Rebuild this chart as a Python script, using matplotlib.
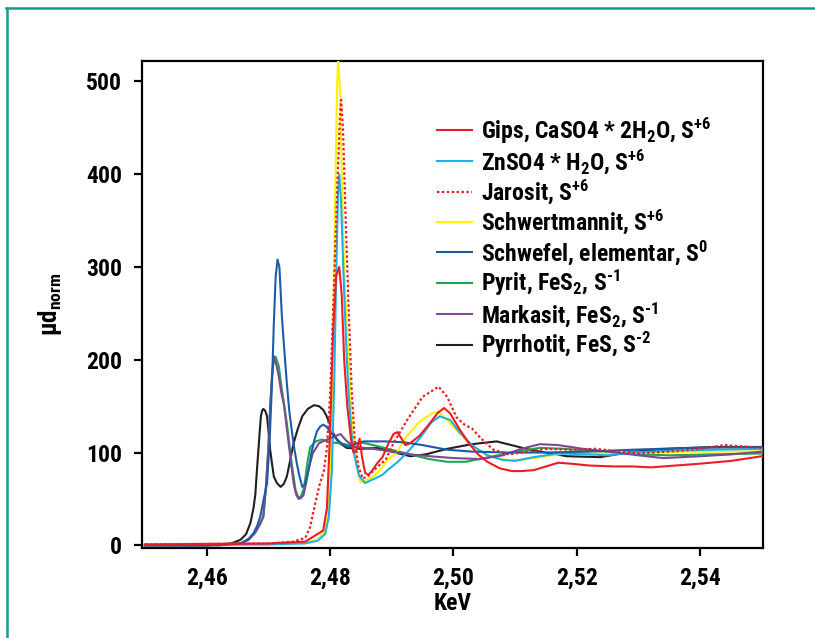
import matplotlib
matplotlib.use("Agg")
import matplotlib.pyplot as plt
from matplotlib.lines import Line2D

plt.rcParams['font.family'] = ['Roboto Condensed', 'PT Sans Narrow', 'DejaVu Sans']
plt.rcParams['font.weight'] = 'bold'
plt.rcParams['mathtext.fontset'] = 'custom'
plt.rcParams['mathtext.rm'] = 'Roboto Condensed:bold'
plt.rcParams['mathtext.it'] = 'Roboto Condensed:bold'
plt.rcParams['mathtext.bf'] = 'Roboto Condensed:bold'

# energies (KeV) and normalised absorption
gips_e = [2.450, 2.470, 2.476, 2.4789, 2.4795, 2.4800, 2.4805, 2.4810, 2.4815, 2.4819,
          2.4823, 2.4828, 2.4834, 2.4838, 2.4843, 2.4848, 2.4852, 2.4857, 2.4862, 2.4868,
          2.4876, 2.4885, 2.4895, 2.4903, 2.4909, 2.4915, 2.4922, 2.4930, 2.4945, 2.4960,
          2.4975, 2.4985, 2.4995, 2.5010, 2.5025, 2.5040, 2.5055, 2.5075, 2.5095, 2.5110,
          2.5130, 2.5150, 2.5170, 2.5190, 2.5220, 2.5260, 2.5290, 2.5320, 2.5360, 2.5400,
          2.5450, 2.5500]
gips_v = [1, 2, 4, 16, 40, 120, 230, 290, 300, 270,
          200, 150, 115, 100, 103, 115, 95, 78, 76, 80,
          88, 95, 110, 120, 122, 116, 108, 110, 118, 130,
          143, 148, 142, 125, 110, 98, 90, 83, 80, 80,
          81, 85, 89, 88, 86, 85, 85, 84, 86, 88,
          91, 96]

znso4_e = [2.450, 2.470, 2.476, 2.478, 2.4792, 2.4798, 2.4803, 2.4807, 2.4810, 2.4813,
           2.4815, 2.4818, 2.4822, 2.4826, 2.4830, 2.4835, 2.4840, 2.4847, 2.4857, 2.4866,
           2.4876, 2.4885, 2.4895, 2.4910, 2.4925, 2.4945, 2.4965, 2.4978, 2.4995, 2.5010,
           2.5030, 2.5055, 2.5080, 2.5100, 2.5130, 2.5170, 2.5220, 2.5250, 2.5290, 2.5350,
           2.5420, 2.5500]
znso4_v = [0, 1, 2, 5, 12, 30, 80, 180, 290, 380,
           400, 370, 290, 220, 165, 120, 95, 75, 67, 70,
           73, 76, 82, 90, 100, 115, 133, 139, 135, 122,
           108, 97, 92, 91, 95, 99, 98, 97, 100, 102,
           103, 104]

jarosit_e = [2.450, 2.470, 2.474, 2.4760, 2.4768, 2.4776, 2.4783, 2.4790, 2.4795, 2.4800,
             2.4806, 2.4812, 2.4816, 2.4818, 2.4821, 2.4825, 2.4830, 2.4835, 2.4840, 2.4846,
             2.4853, 2.4862, 2.4876, 2.4890, 2.4903, 2.4925, 2.4950, 2.4976, 2.4990, 2.5005,
             2.5018, 2.5030, 2.5045, 2.5065, 2.5090, 2.5120, 2.5150, 2.5190, 2.5230, 2.5270,
             2.5300, 2.5350, 2.5400, 2.5440, 2.5500]
jarosit_v = [1, 2, 4, 8, 20, 45, 65, 80, 105, 160,
             270, 390, 460, 480, 450, 360, 260, 170, 115, 85,
             72, 75, 84, 92, 110, 135, 160, 171, 160, 138,
             130, 126, 115, 103, 98, 101, 104, 103, 104, 101,
             99, 101, 104, 108, 105]

schwert_e = [2.450, 2.470, 2.476, 2.478, 2.4790, 2.4796, 2.4800, 2.4803, 2.4806, 2.4809,
             2.4811, 2.4813, 2.4816, 2.4819, 2.4822, 2.4826, 2.4830, 2.4835, 2.4841, 2.4849,
             2.4858, 2.4870, 2.4880, 2.4893, 2.4908, 2.4925, 2.4945, 2.4965, 2.4976, 2.4990,
             2.5005, 2.5025, 2.5043, 2.5065, 2.5086, 2.5110, 2.5140, 2.5180, 2.5240, 2.5300,
             2.5400, 2.5500]
schwert_v = [0, 1, 3, 6, 14, 30, 70, 150, 270, 400,
             480, 526, 495, 410, 320, 250, 205, 140, 100, 68,
             70, 74, 80, 92, 100, 118, 133, 142, 144, 135,
             124, 110, 101, 95, 92, 92, 95, 99, 99, 100,
             101, 101]

schwefel_e = [2.450, 2.460, 2.4655, 2.4668, 2.4676, 2.4682, 2.4687, 2.4692, 2.4698, 2.4702,
              2.4706, 2.4709, 2.4712, 2.4715, 2.4718, 2.4722, 2.4726, 2.4730, 2.4734, 2.4738,
              2.4742, 2.4746, 2.4750, 2.4755, 2.4759, 2.4763, 2.4767, 2.4771, 2.4775, 2.4779,
              2.4784, 2.4789, 2.4794, 2.4799, 2.4807, 2.4815, 2.4822, 2.4830, 2.4840, 2.4854,
              2.4870, 2.4890, 2.4920, 2.4950, 2.4990, 2.5030, 2.5090, 2.5150, 2.5220, 2.5290,
              2.5380, 2.5500]
schwefel_v = [0, 0, 2, 7, 13, 21, 31, 48, 67, 110,
              175, 240, 290, 308, 300, 247, 210, 175, 145, 124,
              105, 89, 76, 63, 65, 74, 88, 103, 114, 123,
              128, 130, 128, 124, 117, 112, 108, 106, 109, 112,
              112, 112, 111, 108, 103, 101, 100, 100, 101, 103,
              105, 106]

pyrit_e = [2.450, 2.462, 2.4655, 2.4668, 2.4678, 2.4686, 2.4692, 2.4696, 2.4700, 2.4703,
           2.4706, 2.4709, 2.4712, 2.4717, 2.4722, 2.4726, 2.4730, 2.4734, 2.4738, 2.4744,
           2.4749, 2.4753, 2.4757, 2.4760, 2.4763, 2.4768, 2.4777, 2.4787, 2.4800, 2.4815,
           2.4833, 2.4850, 2.4870, 2.4900, 2.4930, 2.4960, 2.4990, 2.5020, 2.5050, 2.5080,
           2.5110, 2.5140, 2.5180, 2.5220, 2.5260, 2.5300, 2.5350, 2.5420, 2.5500]
pyrit_v = [0, 0, 2, 6, 13, 22, 31, 60, 103, 145,
           182, 200, 203, 193, 168, 150, 132, 110, 88, 60,
           51, 53, 60, 72, 88, 106, 112, 114, 111, 110,
           108, 111, 108, 103, 98, 93, 90, 90, 94, 98,
           102, 105, 104, 102, 100, 98, 97, 98, 99]

markasit_e = [2.450, 2.462, 2.4655, 2.4668, 2.4678, 2.4686, 2.4692, 2.4696, 2.4700, 2.4703,
              2.4706, 2.4709, 2.4713, 2.4717, 2.4721, 2.4725, 2.4729, 2.4733, 2.4737, 2.4741,
              2.4745, 2.4749, 2.4753, 2.4757, 2.4761, 2.4765, 2.4772, 2.4782, 2.4795, 2.4810,
              2.4817, 2.4826, 2.4840, 2.4870, 2.4900, 2.4930, 2.4962, 2.5000, 2.5043, 2.5080,
              2.5110, 2.5140, 2.5170, 2.5210, 2.5250, 2.5300, 2.5340, 2.5400, 2.5450, 2.5500]
markasit_v = [0, 0, 2, 6, 13, 22, 31, 62, 103, 150,
              182, 204, 195, 182, 165, 153, 132, 110, 88, 67,
              55, 50, 51, 54, 66, 81, 99, 110, 114, 118,
              120, 113, 106, 104, 101, 98, 96, 94, 93, 97,
              104, 109, 108, 104, 101, 97, 94, 96, 98, 101]

pyrrhotit_e = [2.450, 2.460, 2.4640, 2.4655, 2.4664, 2.4671, 2.4676, 2.4679, 2.4682, 2.4684,
               2.4686, 2.4688, 2.4690, 2.4692, 2.4695, 2.4698, 2.4700, 2.4703, 2.4706, 2.4709,
               2.4714, 2.4720, 2.4725, 2.4730, 2.4735, 2.4741, 2.4748, 2.4755, 2.4764, 2.4774,
               2.4782, 2.4789, 2.4794, 2.4799, 2.4806, 2.4814, 2.4827, 2.4850, 2.4881, 2.4905,
               2.4930, 2.4955, 2.4990, 2.5030, 2.5070, 2.5100, 2.5124, 2.5184, 2.5238, 2.5291,
               2.5350, 2.5420, 2.5500]
pyrrhotit_v = [0, 0, 2, 6, 12, 24, 40, 55, 85, 103,
               122, 139, 145, 147, 145, 139, 125, 103, 88, 74,
               67, 63, 66, 74, 90, 110, 126, 139, 147, 151,
               150, 146, 140, 132, 120, 111, 105, 104, 105, 100,
               96, 98, 104, 109, 112, 107, 103, 96, 95, 101,
               104, 106, 106]

labels = ['Gips, CaSO4 * 2H$_2$O, S$^{+6}$',
          'ZnSO4 * H$_2$O, S$^{+6}$',
          'Jarosit, S$^{+6}$',
          'Schwertmannit, S$^{+6}$',
          'Schwefel, elementar, S$^0$',
          'Pyrit, FeS$_2$, S$^{\u20101}$',
          'Markasit, FeS$_2$, S$^{\u20101}$',
          'Pyrrhotit, FeS, S$^{\u20102}$']

xticks = [2.46, 2.48, 2.50, 2.52, 2.54]
xtick_labels = ['2,46', '2,48', '2,50', '2,52', '2,54']
yticks = [0, 100, 200, 300, 400, 500]

fig = plt.figure(figsize=(8.15, 6.38), dpi=100)
ax = fig.add_axes([0.174, 0.1415, 0.7616, 0.7629])

lw = 1.5
ax.plot(gips_e, gips_v, color='#ed1c24', lw=lw, label=labels[0], zorder=9)
ax.plot(znso4_e, znso4_v, color='#1cb0ea', lw=lw, label=labels[1], zorder=5)
ax.plot(jarosit_e, jarosit_v, color='#ed1c24', lw=1.6, ls=(0, (1.1, 1.1)), label=labels[2], zorder=8)
ax.plot(schwert_e, schwert_v, color='#fff200', lw=lw, label=labels[3], zorder=4)
ax.plot(schwefel_e, schwefel_v, color='#1b5ca8', lw=lw, label=labels[4], zorder=7)
ax.plot(pyrit_e, pyrit_v, color='#1fa650', lw=lw, label=labels[5], zorder=3)
ax.plot(markasit_e, markasit_v, color='#7b4996', lw=lw, label=labels[6], zorder=6)
ax.plot(pyrrhotit_e, pyrrhotit_v, color='#231f20', lw=lw, label=labels[7], zorder=2)

ax.set_xlim(2.4495, 2.5501)
ax.set_ylim(-2.6, 522)
ax.set_xticks(xticks)
ax.set_xticklabels(xtick_labels)
ax.set_yticks(yticks)
for s in ax.spines.values():
    s.set_linewidth(1.6)
ax.tick_params(direction='out', length=6, width=1.6, labelsize=17, pad=8)

ax.set_xlabel('KeV', fontsize=17, fontweight='bold', labelpad=1)
ax.set_ylabel('μd$_{norm}$', fontsize=18, fontweight='bold', labelpad=16)

ax.legend(loc='upper left', bbox_to_anchor=(0.476, 0.888), frameon=False,
          fontsize=17, handlelength=1.45, handletextpad=0.42, labelspacing=0.065,
          borderpad=0, borderaxespad=0)

# teal frame round the figure (top and left edges)
teal = '#16998a'
fig.add_artist(Line2D([6 / 815, 1], [1 - 7.5 / 638, 1 - 7.5 / 638], color=teal, lw=1.8,
                      transform=fig.transFigure))
fig.add_artist(Line2D([6.5 / 815, 6.5 / 815], [0, 1 - 7.5 / 638], color=teal, lw=1.8,
                      transform=fig.transFigure))

fig.savefig('out.png', dpi=100)
